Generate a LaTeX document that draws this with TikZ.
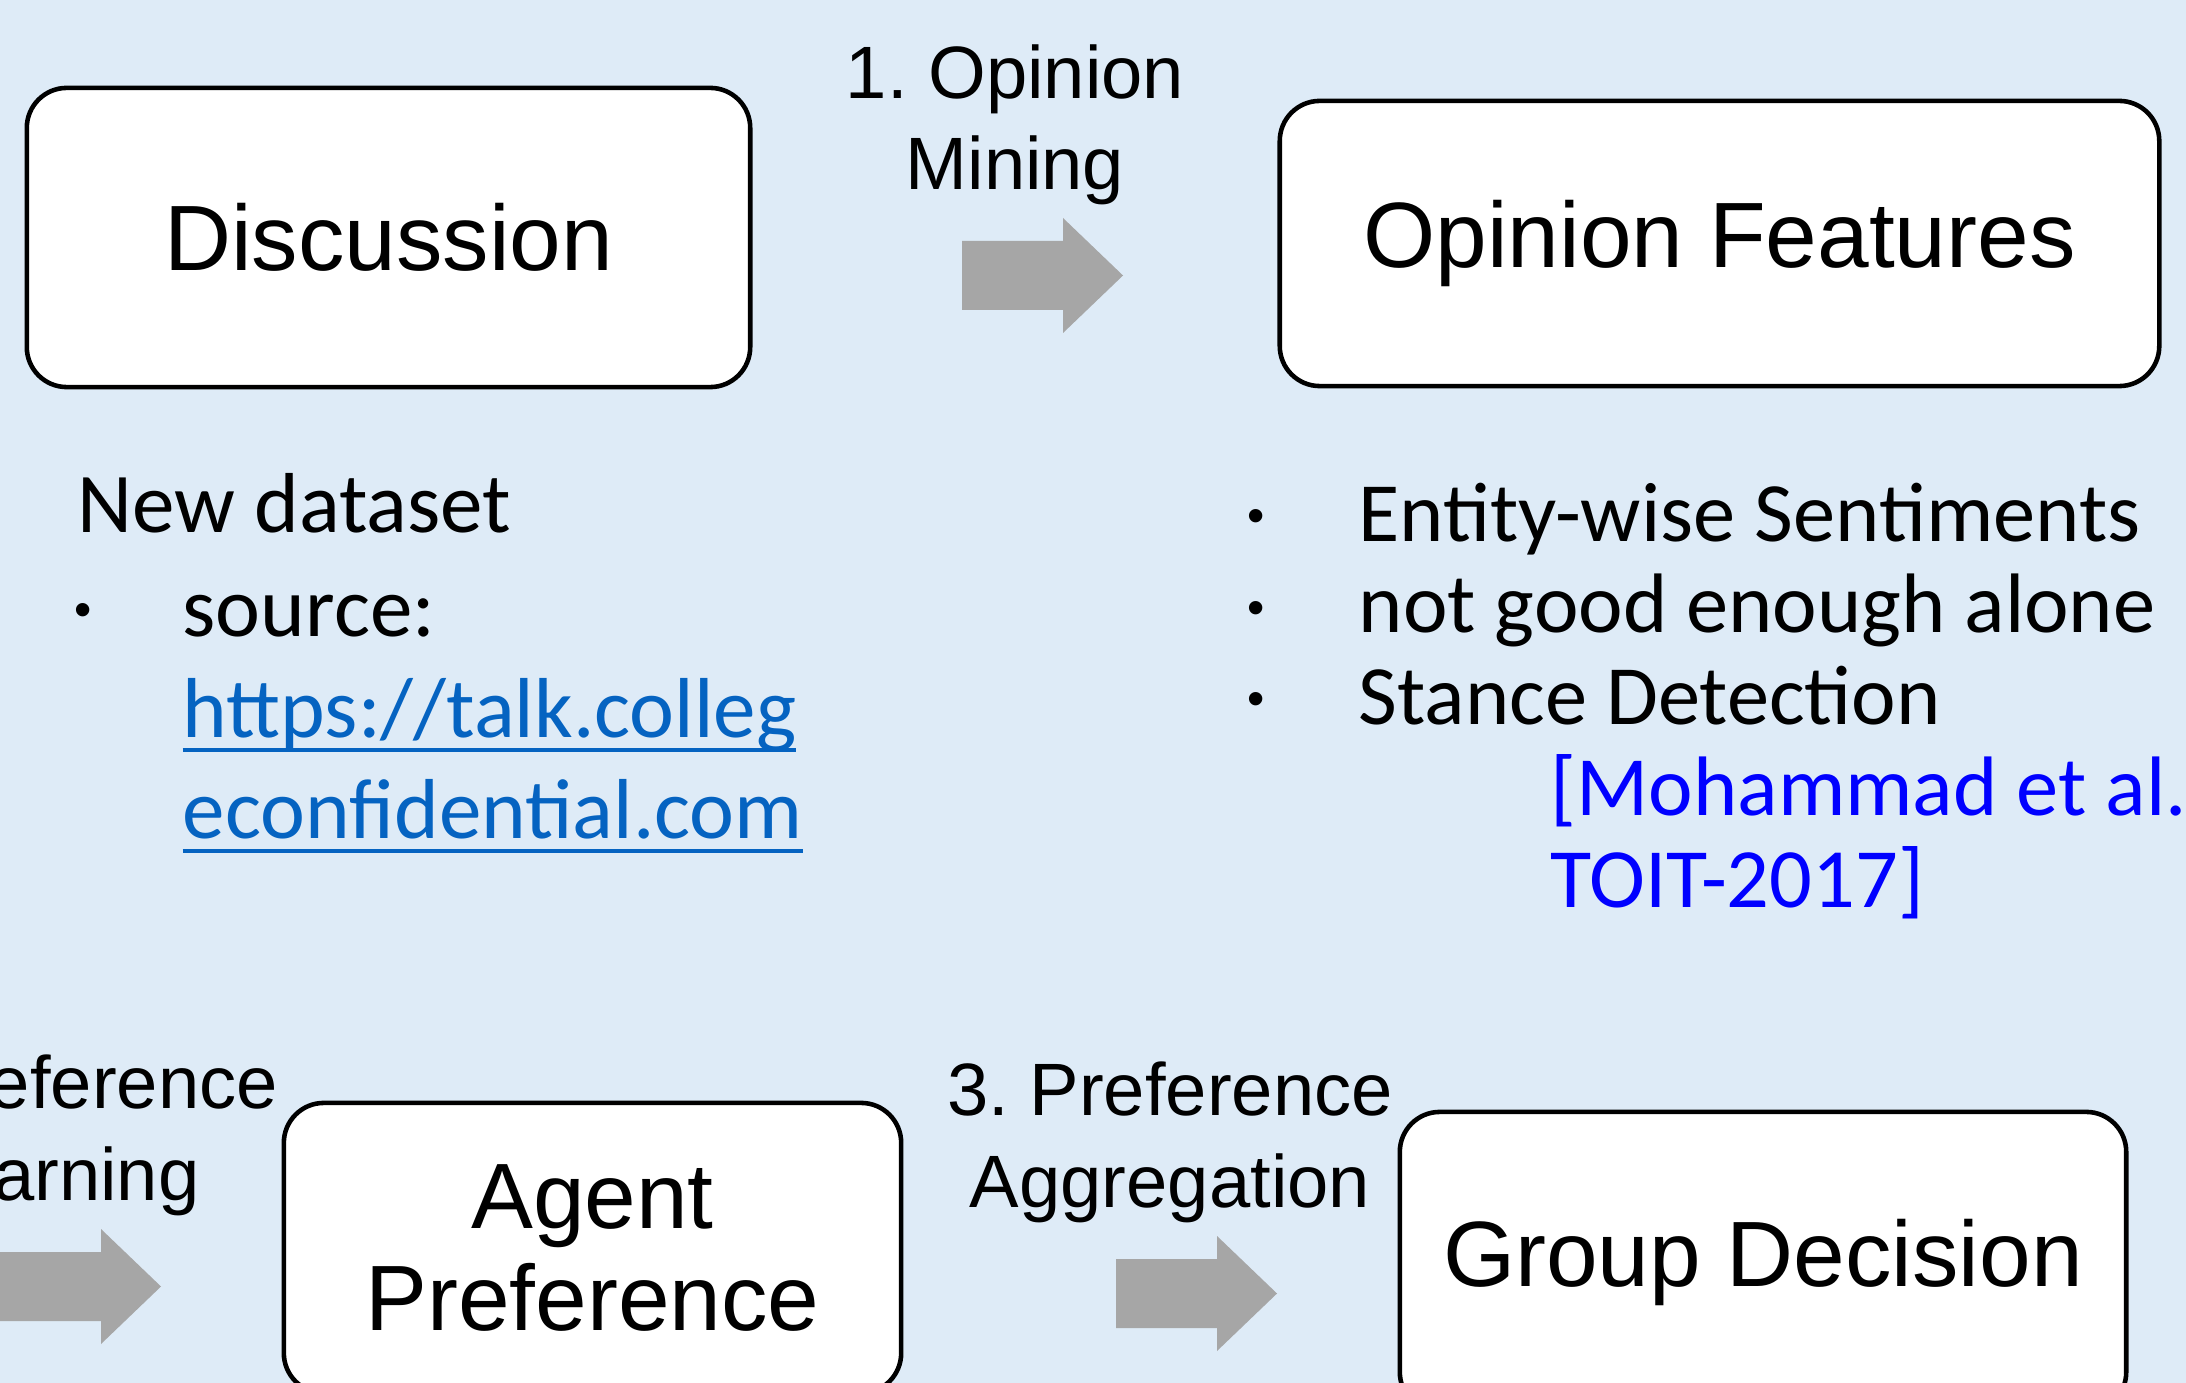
\documentclass[tikz,border=0pt]{standalone}
\usepackage{fontspec}
\setmainfont{Liberation Sans}
\newfontfamily\calibri{Carlito}
\usepackage{tikz}
\frenchspacing

\definecolor{slidebg}{RGB}{222,235,247}
\definecolor{arrowgray}{RGB}{166,166,166}
\definecolor{linkblue}{RGB}{5,99,193}
\definecolor{citeblue}{RGB}{0,0,255}

\newsavebox{\linkbox}
\newcommand{\linkline}[1]{\sbox{\linkbox}{#1}%
  \rlap{\rule[-4.3pt]{\wd\linkbox}{1.15pt}}\usebox{\linkbox}}

\begin{document}
\begin{tikzpicture}[
  x=0.01cm,y=-0.01cm,
  box/.style={draw,line width=1.3pt,rounded corners=0.4cm,fill=white,align=center,
              inner sep=0pt,font=\fontsize{26.4}{29}\selectfont},
  steplabel/.style={align=center,inner sep=0pt,anchor=base,
              font=\fontsize{21.1}{25.9}\selectfont},
  notes/.style={align=left,inner sep=0pt,anchor=base west,
              font=\calibri\fontsize{24.2}{28.7}\selectfont},
  bulletdot/.style={inner sep=0pt,font=\fontsize{14}{14}\selectfont},
  blockarrow/.pic={\fill[arrowgray] (0,-34.5) -- (101,-34.5) -- (101,-57.5)
              -- (161,0) -- (101,57.5) -- (101,34.5) -- (0,34.5) -- cycle;}
]
\useasboundingbox (0,0) rectangle (2186,1383);
\clip (0,0) rectangle (2186,1383);
\fill[slidebg] (0,0) rectangle (2186,1383);

% boxes
\node[box,minimum width=7.23cm,minimum height=2.99cm] (discussion) at (388.5,237.5) {Discussion};
\node[box,minimum width=8.79cm,minimum height=2.85cm] (features) at (1719.5,243.5) {Opinion Features};
\node[box,minimum width=6.17cm,minimum height=2.90cm] (agent) at (592.5,1248) {Agent\\Preference};
\node[box,minimum width=7.26cm,minimum height=3.00cm] (decision) at (1763,1262) {Group Decision};

% steps (base = last line)
\node[steplabel] (mining) at (1015,190) {1. Opinion\\Mining};
\pic (miningarrow) at (962,275.5) {blockarrow};
\node[steplabel] (learning) at (55,1200) {2. Preference\\Learning};
\pic (learningarrow) at (0,1286.5) {blockarrow};
\node[steplabel] (aggregation) at (1170,1207) {3. Preference\\Aggregation};
\pic (aggregationarrow) at (1116,1293.5) {blockarrow};

% dataset notes
\node[notes] (dataset) at (77,533) {New dataset};
\node[bulletdot] (sourcedot) at (83,615) {•};
\node[notes] (source) at (182,838) {source:\\{\color{linkblue}\linkline{https://talk.colleg}}\\{\color{linkblue}\linkline{econfidential.com}}};

% feature notes
\node[bulletdot] (sentdot) at (1256,521) {•};
\node[bulletdot] (alonedot) at (1256,613) {•};
\node[bulletdot] (stancedot) at (1256,704) {•};
\node[notes,font=\calibri\fontsize{24}{25.9}\selectfont] (featurelist) at (1358,724)
  {Entity-wise Sentiments\\not good enough alone\\Stance Detection};
\node[notes,font=\calibri\fontsize{24}{25.9}\selectfont,text=citeblue] (cite) at (1550,907)
  {[Mohammad et al.\\TOIT-2017]};
\end{tikzpicture}
\end{document}
